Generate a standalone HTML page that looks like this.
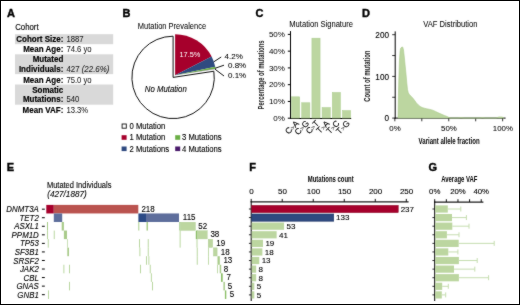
<!DOCTYPE html>
<html><head><meta charset="utf-8"><style>
html,body{margin:0;padding:0;background:#fff;}
svg{display:block;font-family:"Liberation Sans", sans-serif;will-change:transform;}
</style></head><body>
<svg width="520" height="305" viewBox="0 0 520 305">
<defs><filter id="bl" x="0" y="0" width="520" height="305" filterUnits="userSpaceOnUse" color-interpolation-filters="sRGB"><feConvolveMatrix order="3" kernelMatrix="1 2 1 2 28 2 1 2 1" edgeMode="duplicate" preserveAlpha="true"/></filter></defs>
<rect x="0" y="0" width="520" height="305" fill="#fff"/>
<g filter="url(#bl)">
<rect x="0" y="0" width="520" height="305" fill="#fff"/>
<text x="7" y="17.2" font-size="11" text-anchor="start" font-weight="bold" font-style="normal" fill="#000" stroke="#000" stroke-width="0.4" >A</text>
<text x="122.5" y="17.3" font-size="11" text-anchor="start" font-weight="bold" font-style="normal" fill="#000" stroke="#000" stroke-width="0.4" >B</text>
<text x="255.5" y="17.3" font-size="11" text-anchor="start" font-weight="bold" font-style="normal" fill="#000" stroke="#000" stroke-width="0.4" >C</text>
<text x="362.1" y="17.2" font-size="11" text-anchor="start" font-weight="bold" font-style="normal" fill="#000" stroke="#000" stroke-width="0.4" >D</text>
<text x="6.7" y="171.3" font-size="11" text-anchor="start" font-weight="bold" font-style="normal" fill="#000" stroke="#000" stroke-width="0.4" >E</text>
<text x="249.3" y="170.9" font-size="11" text-anchor="start" font-weight="bold" font-style="normal" fill="#000" stroke="#000" stroke-width="0.4" >F</text>
<text x="428.5" y="171.1" font-size="11" text-anchor="start" font-weight="bold" font-style="normal" fill="#000" stroke="#000" stroke-width="0.4" >G</text>
<text x="15.2" y="29.8" font-size="7.8" text-anchor="start" font-weight="normal" font-style="normal" fill="#000" stroke="#000" stroke-width="0.1"  transform="translate(15.2,29.8) scale(1,1.12) translate(-15.2,-29.8)">Cohort</text>
<rect x="15.00" y="34.20" width="98.20" height="10.00" fill="#d9d9d9" />
<rect x="15.00" y="54.30" width="98.20" height="19.80" fill="#d9d9d9" />
<rect x="15.00" y="84.50" width="98.20" height="20.20" fill="#d9d9d9" />
<text x="63.3" y="41.8" font-size="8" text-anchor="end" font-weight="bold" font-style="normal" fill="#000" stroke="#000" stroke-width="0.15"  transform="translate(63.3,41.8) scale(1,1.12) translate(-63.3,-41.8)">Cohort Size:</text>
<text x="63.3" y="52.2" font-size="8" text-anchor="end" font-weight="bold" font-style="normal" fill="#000" stroke="#000" stroke-width="0.15"  transform="translate(63.3,52.2) scale(1,1.12) translate(-63.3,-52.2)">Mean Age:</text>
<text x="63.3" y="62.3" font-size="8" text-anchor="end" font-weight="bold" font-style="normal" fill="#000" stroke="#000" stroke-width="0.15"  transform="translate(63.3,62.3) scale(1,1.12) translate(-63.3,-62.3)">Mutated</text>
<text x="63.3" y="71.8" font-size="8" text-anchor="end" font-weight="bold" font-style="normal" fill="#000" stroke="#000" stroke-width="0.15"  transform="translate(63.3,71.8) scale(1,1.12) translate(-63.3,-71.8)">Individuals:</text>
<text x="63.3" y="82.7" font-size="8" text-anchor="end" font-weight="bold" font-style="normal" fill="#000" stroke="#000" stroke-width="0.15"  transform="translate(63.3,82.7) scale(1,1.12) translate(-63.3,-82.7)">Mean Age:</text>
<text x="63.3" y="93.0" font-size="8" text-anchor="end" font-weight="bold" font-style="normal" fill="#000" stroke="#000" stroke-width="0.15"  transform="translate(63.3,93.0) scale(1,1.12) translate(-63.3,-93.0)">Somatic</text>
<text x="63.3" y="102.5" font-size="8" text-anchor="end" font-weight="bold" font-style="normal" fill="#000" stroke="#000" stroke-width="0.15"  transform="translate(63.3,102.5) scale(1,1.12) translate(-63.3,-102.5)">Mutations:</text>
<text x="63.3" y="112.8" font-size="8" text-anchor="end" font-weight="bold" font-style="normal" fill="#000" stroke="#000" stroke-width="0.15"  transform="translate(63.3,112.8) scale(1,1.12) translate(-63.3,-112.8)">Mean VAF:</text>
<text x="66.4" y="41.8" font-size="7.7" text-anchor="start" font-weight="normal" font-style="normal" fill="#1a1a1a" stroke="#1a1a1a" stroke-width="0.05"  transform="translate(66.4,41.8) scale(1,1.06) translate(-66.4,-41.8)">1887</text>
<text x="66.4" y="52.2" font-size="7.7" text-anchor="start" font-weight="normal" font-style="normal" fill="#1a1a1a" stroke="#1a1a1a" stroke-width="0.05"  transform="translate(66.4,52.2) scale(1,1.06) translate(-66.4,-52.2)">74.6 yo</text>
<text x="66.4" y="71.8" font-size="7.9" text-anchor="start" font-weight="normal" font-style="normal" fill="#1a1a1a" stroke="#1a1a1a" stroke-width="0.05"  transform="translate(66.4,71.8) scale(1,1.06) translate(-66.4,-71.8)">427 <tspan font-style="italic">(22.6%)</tspan></text>
<text x="66.4" y="82.7" font-size="7.7" text-anchor="start" font-weight="normal" font-style="normal" fill="#1a1a1a" stroke="#1a1a1a" stroke-width="0.05"  transform="translate(66.4,82.7) scale(1,1.06) translate(-66.4,-82.7)">75.0 yo</text>
<text x="66.4" y="102.5" font-size="7.7" text-anchor="start" font-weight="normal" font-style="normal" fill="#1a1a1a" stroke="#1a1a1a" stroke-width="0.05"  transform="translate(66.4,102.5) scale(1,1.06) translate(-66.4,-102.5)">540</text>
<text x="66.4" y="112.8" font-size="7.7" text-anchor="start" font-weight="normal" font-style="normal" fill="#1a1a1a" stroke="#1a1a1a" stroke-width="0.05"  transform="translate(66.4,112.8) scale(1,1.06) translate(-66.4,-112.8)">13.3%</text>
<text x="137.8" y="29.4" font-size="7.5" text-anchor="start" font-weight="normal" font-style="normal" fill="#000" stroke="#000" stroke-width="0.03"  transform="translate(137.8,29.4) scale(1,1.12) translate(-137.8,-29.4)">Mutation Prevalence</text>
<path d="M173.10,77.40 L213.84,71.24 A41.2,41.2 0 1 1 173.10,36.20 Z" fill="#fff" stroke="#111" stroke-width="1"/>
<path d="M175.10,75.20 L175.10,34.20 A41,41 0 0 1 211.63,56.59 Z" fill="#a6002c"/>
<path d="M175.10,75.20 L211.63,56.59 A41,41 0 0 1 215.22,66.76 Z" fill="#2f4a80"/>
<path d="M175.10,75.20 L215.22,66.76 A41,41 0 0 1 215.60,68.79 Z" fill="#6aae45"/>
<path d="M175.10,75.20 L215.60,68.79 A41,41 0 0 1 215.63,69.04 Z" fill="#4a1a6b"/>
<text x="179.5" y="57.5" font-size="7.4" text-anchor="start" font-weight="normal" font-style="normal" fill="#fff"  transform="translate(179.5,57.5) scale(1,1.08) translate(-179.5,-57.5)">17.5%</text>
<text x="144.8" y="91.8" font-size="7.8" text-anchor="start" font-weight="normal" font-style="italic" fill="#000" stroke="#000" stroke-width="0.1"  transform="translate(144.8,91.8) scale(1,1.12) translate(-144.8,-91.8)">No Mutation</text>
<line x1="213.8" y1="61.8" x2="221.2" y2="57.0" stroke="#111" stroke-width="1" />
<line x1="215" y1="68.3" x2="224" y2="65.2" stroke="#111" stroke-width="1" />
<line x1="215" y1="69.2" x2="224" y2="76" stroke="#111" stroke-width="1" />
<text x="224.6" y="59.1" font-size="8" text-anchor="start" font-weight="normal" font-style="normal" fill="#000" stroke="#000" stroke-width="0.05" >4.2%</text>
<text x="228" y="67.8" font-size="8" text-anchor="start" font-weight="normal" font-style="normal" fill="#000" stroke="#000" stroke-width="0.05" >0.8%</text>
<text x="228" y="77.9" font-size="8" text-anchor="start" font-weight="normal" font-style="normal" fill="#000" stroke="#000" stroke-width="0.05" >0.1%</text>
<rect x="122.1" y="124" width="4.2" height="4.2" fill="#fff" stroke="#111" stroke-width="0.9"/>
<rect x="121.60" y="135.20" width="5.00" height="4.60" fill="#a6002c" />
<rect x="121.60" y="146.50" width="5.00" height="4.60" fill="#2f4a80" />
<rect x="175.20" y="135.20" width="5.00" height="4.60" fill="#6aae45" />
<rect x="175.20" y="146.50" width="5.00" height="4.60" fill="#4a1a6b" />
<text x="129.5" y="128.9" font-size="7.7" text-anchor="start" font-weight="normal" font-style="normal" fill="#000" stroke="#000" stroke-width="0.1"  transform="translate(129.5,128.9) scale(1,1.12) translate(-129.5,-128.9)">0 Mutation</text>
<text x="129.5" y="140.3" font-size="7.7" text-anchor="start" font-weight="normal" font-style="normal" fill="#000" stroke="#000" stroke-width="0.1"  transform="translate(129.5,140.3) scale(1,1.12) translate(-129.5,-140.3)">1 Mutation</text>
<text x="129.5" y="151.6" font-size="7.7" text-anchor="start" font-weight="normal" font-style="normal" fill="#000" stroke="#000" stroke-width="0.1"  transform="translate(129.5,151.6) scale(1,1.12) translate(-129.5,-151.6)">2 Mutations</text>
<text x="182.0" y="140.3" font-size="7.7" text-anchor="start" font-weight="normal" font-style="normal" fill="#000" stroke="#000" stroke-width="0.1"  transform="translate(182.0,140.3) scale(1,1.12) translate(-182.0,-140.3)">3 Mutations</text>
<text x="182.0" y="151.6" font-size="7.7" text-anchor="start" font-weight="normal" font-style="normal" fill="#000" stroke="#000" stroke-width="0.1"  transform="translate(182.0,151.6) scale(1,1.12) translate(-182.0,-151.6)">4 Mutations</text>
<text x="289.3" y="26.7" font-size="7.6" text-anchor="start" font-weight="normal" font-style="normal" fill="#000" stroke="#000" stroke-width="0.03"  transform="translate(289.3,26.7) scale(1,1.12) translate(-289.3,-26.7)">Mutation Signature</text>
<line x1="290.5" y1="31.1" x2="290.5" y2="118.5" stroke="#000" stroke-width="1" />
<line x1="290.0" y1="118.5" x2="351.2" y2="118.5" stroke="#000" stroke-width="1" />
<line x1="287.8" y1="118.2" x2="290.5" y2="118.2" stroke="#000" stroke-width="1" />
<text x="284.9" y="120.8" font-size="8" text-anchor="end" font-weight="normal" font-style="normal" fill="#000" >0%</text>
<line x1="287.8" y1="101.44" x2="290.5" y2="101.44" stroke="#000" stroke-width="1" />
<text x="284.9" y="104.03999999999999" font-size="8" text-anchor="end" font-weight="normal" font-style="normal" fill="#000" >10%</text>
<line x1="287.8" y1="84.68" x2="290.5" y2="84.68" stroke="#000" stroke-width="1" />
<text x="284.9" y="87.28" font-size="8" text-anchor="end" font-weight="normal" font-style="normal" fill="#000" >20%</text>
<line x1="287.8" y1="67.92" x2="290.5" y2="67.92" stroke="#000" stroke-width="1" />
<text x="284.9" y="70.52" font-size="8" text-anchor="end" font-weight="normal" font-style="normal" fill="#000" >30%</text>
<line x1="287.8" y1="51.16" x2="290.5" y2="51.16" stroke="#000" stroke-width="1" />
<text x="284.9" y="53.76" font-size="8" text-anchor="end" font-weight="normal" font-style="normal" fill="#000" >40%</text>
<line x1="287.8" y1="34.39999999999999" x2="290.5" y2="34.39999999999999" stroke="#000" stroke-width="1" />
<text x="284.9" y="36.99999999999999" font-size="8" text-anchor="end" font-weight="normal" font-style="normal" fill="#000" >50%</text>
<rect x="291.55" y="96.83" width="8.15" height="21.22" fill="#bcd6a0" stroke="#a9cb8c" stroke-width="0.5"/>
<text x="299.43" y="123.9" font-size="8.5" text-anchor="end" font-weight="normal" font-style="normal" fill="#000" stroke="#000" stroke-width="0.1" transform="rotate(-45 299.43 123.9)">C<tspan font-size="6" fill="#555" stroke="#555">&gt;</tspan>A</text>
<rect x="301.73" y="102.78" width="8.15" height="15.27" fill="#bcd6a0" stroke="#a9cb8c" stroke-width="0.5"/>
<text x="309.61" y="123.9" font-size="8.5" text-anchor="end" font-weight="normal" font-style="normal" fill="#000" stroke="#000" stroke-width="0.1" transform="rotate(-45 309.61 123.9)">C<tspan font-size="6" fill="#555" stroke="#555">&gt;</tspan>G</text>
<rect x="311.91" y="38.17" width="8.15" height="79.88" fill="#bcd6a0" stroke="#a9cb8c" stroke-width="0.5"/>
<text x="319.79" y="123.9" font-size="8.5" text-anchor="end" font-weight="normal" font-style="normal" fill="#000" stroke="#000" stroke-width="0.1" transform="rotate(-45 319.79 123.9)">C<tspan font-size="6" fill="#555" stroke="#555">&gt;</tspan>T</text>
<rect x="322.09" y="107.56" width="8.15" height="10.49" fill="#bcd6a0" stroke="#a9cb8c" stroke-width="0.5"/>
<text x="329.97" y="123.9" font-size="8.5" text-anchor="end" font-weight="normal" font-style="normal" fill="#000" stroke="#000" stroke-width="0.1" transform="rotate(-45 329.97 123.9)">T<tspan font-size="6" fill="#555" stroke="#555">&gt;</tspan>A</text>
<rect x="332.27" y="92.47" width="8.15" height="25.58" fill="#bcd6a0" stroke="#a9cb8c" stroke-width="0.5"/>
<text x="340.15" y="123.9" font-size="8.5" text-anchor="end" font-weight="normal" font-style="normal" fill="#000" stroke="#000" stroke-width="0.1" transform="rotate(-45 340.15 123.9)">T<tspan font-size="6" fill="#555" stroke="#555">&gt;</tspan>C</text>
<rect x="342.45" y="110.57" width="8.15" height="7.48" fill="#bcd6a0" stroke="#a9cb8c" stroke-width="0.5"/>
<text x="350.33" y="123.9" font-size="8.5" text-anchor="end" font-weight="normal" font-style="normal" fill="#000" stroke="#000" stroke-width="0.1" transform="rotate(-45 350.33 123.9)">T<tspan font-size="6" fill="#555" stroke="#555">&gt;</tspan>G</text>
<text x="0" y="0" font-size="8.3" text-anchor="middle" font-weight="bold" font-style="normal" fill="#222" transform="translate(263.6,74.9) rotate(-90)" textLength="69" lengthAdjust="spacingAndGlyphs">Percentage of mutations</text>
<text x="423.3" y="26.6" font-size="7.6" text-anchor="start" font-weight="normal" font-style="normal" fill="#000" stroke="#000" stroke-width="0.03"  transform="translate(423.3,26.6) scale(1,1.12) translate(-423.3,-26.6)">VAF Distribution</text>
<line x1="395.2" y1="31.4" x2="395.2" y2="118.6" stroke="#000" stroke-width="1" />
<line x1="394.7" y1="118.1" x2="505.6" y2="118.1" stroke="#000" stroke-width="1" />
<line x1="392.2" y1="118.1" x2="395.2" y2="118.1" stroke="#000" stroke-width="0.8" />
<line x1="392.2" y1="97.25" x2="395.2" y2="97.25" stroke="#000" stroke-width="0.8" />
<line x1="392.2" y1="76.4" x2="395.2" y2="76.4" stroke="#000" stroke-width="0.8" />
<line x1="392.2" y1="55.55" x2="395.2" y2="55.55" stroke="#000" stroke-width="0.8" />
<line x1="392.2" y1="34.7" x2="395.2" y2="34.7" stroke="#000" stroke-width="0.8" />
<text x="389.0" y="121.19999999999999" font-size="8.2" text-anchor="end" font-weight="normal" font-style="normal" fill="#000" stroke="#000" stroke-width="0.1" >0</text>
<text x="389.0" y="79.5" font-size="8.2" text-anchor="end" font-weight="normal" font-style="normal" fill="#000" stroke="#000" stroke-width="0.1" >100</text>
<text x="389.0" y="37.800000000000004" font-size="8.2" text-anchor="end" font-weight="normal" font-style="normal" fill="#000" stroke="#000" stroke-width="0.1" >200</text>
<line x1="394.85" y1="118.1" x2="394.85" y2="121.3" stroke="#000" stroke-width="0.8" />
<line x1="421.8" y1="118.1" x2="421.8" y2="121.3" stroke="#000" stroke-width="0.8" />
<line x1="448.75" y1="118.1" x2="448.75" y2="121.3" stroke="#000" stroke-width="0.8" />
<line x1="475.70000000000005" y1="118.1" x2="475.70000000000005" y2="121.3" stroke="#000" stroke-width="0.8" />
<line x1="502.65000000000003" y1="118.1" x2="502.65000000000003" y2="121.3" stroke="#000" stroke-width="0.8" />
<text x="395.05" y="131.2" font-size="7.9" text-anchor="middle" font-weight="normal" font-style="normal" fill="#000" stroke="#000" stroke-width="0.05" >0%</text>
<text x="448.95" y="131.2" font-size="7.9" text-anchor="middle" font-weight="normal" font-style="normal" fill="#000" stroke="#000" stroke-width="0.05" >50%</text>
<text x="502.85" y="131.2" font-size="7.9" text-anchor="middle" font-weight="normal" font-style="normal" fill="#000" stroke="#000" stroke-width="0.05" >100%</text>
<path d="M398,118 L398.3,100 L398.8,80 L399.4,62 L400.0,52 L400.5,48.6 L401.2,47.6 L402.0,47.0 L402.8,47.2 L403.5,50 L404.3,57 L405.2,66 L406.1,75 L406.8,83 L407.5,89.5 L408.3,92.8 L409.2,94.3 L411,96.2 L412.7,97.9 L414.5,100.3 L416.4,102.9 L418.3,104.9 L420.1,106.4 L422.3,107.6 L424.5,108.2 L426.7,108.8 L428.9,109.2 L431.1,109.7 L433.3,110.4 L435.5,111.4 L437.8,112.6 L440,113.6 L442.2,114.5 L444.4,115.4 L446.6,116.3 L448.2,117.1 L449.6,117.8 L451,118 L458,118 L461,117.6 L464,118 L480,118 L482.5,117.6 L485,118 L496,118 L499,116.9 L502,117 L504,118 Z" fill="#bcd6a0" stroke="#a9ca8c" stroke-width="0.6" stroke-linejoin="round"/>
<text x="0" y="0" font-size="8.8" text-anchor="middle" font-weight="bold" font-style="normal" fill="#222" transform="translate(370.1,76.2) rotate(-90)" textLength="51.2" lengthAdjust="spacingAndGlyphs">Count of mutation</text>
<text x="449.1" y="144" font-size="9" text-anchor="middle" font-weight="bold" font-style="normal" fill="#000" textLength="61" lengthAdjust="spacingAndGlyphs">Variant allele fraction</text>
<text x="46.9" y="187.6" font-size="7.5" text-anchor="start" font-weight="normal" font-style="normal" fill="#000" stroke="#000" stroke-width="0.1"  transform="translate(46.9,187.6) scale(1,1.12) translate(-46.9,-187.6)">Mutated Individuals</text>
<text x="47.3" y="196.6" font-size="8.2" text-anchor="start" font-weight="normal" font-style="italic" fill="#000" stroke="#000" stroke-width="0.1" textLength="39.4" lengthAdjust="spacingAndGlyphs">(427/1887)</text>
<text x="38.8" y="212.275" font-size="7.9" text-anchor="end" font-weight="normal" font-style="italic" fill="#000" stroke="#000" stroke-width="0.1"  transform="translate(38.8,212.275) scale(1,1.12) translate(-38.8,-212.275)">DNMT3A</text>
<line x1="41.9" y1="209.175" x2="44.8" y2="209.175" stroke="#000" stroke-width="1" />
<text x="38.8" y="220.82500000000002" font-size="7.9" text-anchor="end" font-weight="normal" font-style="italic" fill="#000" stroke="#000" stroke-width="0.1"  transform="translate(38.8,220.82500000000002) scale(1,1.12) translate(-38.8,-220.82500000000002)">TET2</text>
<line x1="41.9" y1="217.72500000000002" x2="44.8" y2="217.72500000000002" stroke="#000" stroke-width="1" />
<text x="38.8" y="229.375" font-size="7.9" text-anchor="end" font-weight="normal" font-style="italic" fill="#000" stroke="#000" stroke-width="0.1"  transform="translate(38.8,229.375) scale(1,1.12) translate(-38.8,-229.375)">ASXL1</text>
<line x1="41.9" y1="226.275" x2="44.8" y2="226.275" stroke="#000" stroke-width="1" />
<text x="38.8" y="237.925" font-size="7.9" text-anchor="end" font-weight="normal" font-style="italic" fill="#000" stroke="#000" stroke-width="0.1"  transform="translate(38.8,237.925) scale(1,1.12) translate(-38.8,-237.925)">PPM1D</text>
<line x1="41.9" y1="234.82500000000002" x2="44.8" y2="234.82500000000002" stroke="#000" stroke-width="1" />
<text x="38.8" y="246.47500000000002" font-size="7.9" text-anchor="end" font-weight="normal" font-style="italic" fill="#000" stroke="#000" stroke-width="0.1"  transform="translate(38.8,246.47500000000002) scale(1,1.12) translate(-38.8,-246.47500000000002)">TP53</text>
<line x1="41.9" y1="243.37500000000003" x2="44.8" y2="243.37500000000003" stroke="#000" stroke-width="1" />
<text x="38.8" y="255.025" font-size="7.9" text-anchor="end" font-weight="normal" font-style="italic" fill="#000" stroke="#000" stroke-width="0.1"  transform="translate(38.8,255.025) scale(1,1.12) translate(-38.8,-255.025)">SF3B1</text>
<line x1="41.9" y1="251.925" x2="44.8" y2="251.925" stroke="#000" stroke-width="1" />
<text x="38.8" y="263.575" font-size="7.9" text-anchor="end" font-weight="normal" font-style="italic" fill="#000" stroke="#000" stroke-width="0.1"  transform="translate(38.8,263.575) scale(1,1.12) translate(-38.8,-263.575)">SRSF2</text>
<line x1="41.9" y1="260.47499999999997" x2="44.8" y2="260.47499999999997" stroke="#000" stroke-width="1" />
<text x="38.8" y="272.125" font-size="7.9" text-anchor="end" font-weight="normal" font-style="italic" fill="#000" stroke="#000" stroke-width="0.1"  transform="translate(38.8,272.125) scale(1,1.12) translate(-38.8,-272.125)">JAK2</text>
<line x1="41.9" y1="269.025" x2="44.8" y2="269.025" stroke="#000" stroke-width="1" />
<text x="38.8" y="280.675" font-size="7.9" text-anchor="end" font-weight="normal" font-style="italic" fill="#000" stroke="#000" stroke-width="0.1"  transform="translate(38.8,280.675) scale(1,1.12) translate(-38.8,-280.675)">CBL</text>
<line x1="41.9" y1="277.575" x2="44.8" y2="277.575" stroke="#000" stroke-width="1" />
<text x="38.8" y="289.225" font-size="7.9" text-anchor="end" font-weight="normal" font-style="italic" fill="#000" stroke="#000" stroke-width="0.1"  transform="translate(38.8,289.225) scale(1,1.12) translate(-38.8,-289.225)">GNAS</text>
<line x1="41.9" y1="286.125" x2="44.8" y2="286.125" stroke="#000" stroke-width="1" />
<text x="38.8" y="297.775" font-size="7.9" text-anchor="end" font-weight="normal" font-style="italic" fill="#000" stroke="#000" stroke-width="0.1"  transform="translate(38.8,297.775) scale(1,1.12) translate(-38.8,-297.775)">GNB1</text>
<line x1="41.9" y1="294.67499999999995" x2="44.8" y2="294.67499999999995" stroke="#000" stroke-width="1" />
<rect x="46.30" y="204.90" width="7.50" height="8.55" fill="#a6002c" />
<rect x="53.80" y="204.90" width="84.50" height="8.55" fill="#ba534f" />
<rect x="53.80" y="213.45" width="8.40" height="8.55" fill="#5e6e9c" />
<rect x="138.40" y="213.45" width="7.60" height="8.55" fill="#2b4a86" />
<rect x="146.00" y="213.45" width="33.00" height="8.55" fill="#5e6e9c" />
<rect x="47.00" y="222.00" width="1.00" height="8.55" fill="#a9cd8a" />
<rect x="61.70" y="222.00" width="2.20" height="8.55" fill="#a9cb8b" />
<rect x="138.30" y="222.00" width="1.00" height="8.55" fill="#a9cd8a" />
<rect x="146.50" y="222.00" width="1.50" height="8.55" fill="#a9cd8a" />
<rect x="179.40" y="222.00" width="0.90" height="8.55" fill="#8cbf68" />
<rect x="180.50" y="222.20" width="14.90" height="8.15" fill="#bcd6a0" stroke="#acca90" stroke-width="0.4"/>
<rect x="47.20" y="230.55" width="0.80" height="8.55" fill="#a9cd8a" />
<rect x="53.80" y="230.55" width="0.80" height="8.55" fill="#a9cd8a" />
<rect x="63.90" y="230.55" width="3.10" height="8.55" fill="#a9cb8b" />
<rect x="179.70" y="230.55" width="0.80" height="8.55" fill="#a9cd8a" />
<rect x="195.80" y="230.55" width="1.20" height="8.55" fill="#8cbf68" />
<rect x="197.20" y="230.75" width="10.00" height="8.15" fill="#bcd6a0" stroke="#acca90" stroke-width="0.4"/>
<rect x="47.80" y="239.10" width="0.80" height="8.55" fill="#a9cd8a" />
<rect x="67.00" y="239.10" width="0.60" height="8.55" fill="#a9cd8a" />
<rect x="139.20" y="239.10" width="0.80" height="8.55" fill="#a9cd8a" />
<rect x="147.80" y="239.10" width="0.80" height="8.55" fill="#a9cd8a" />
<rect x="179.70" y="239.10" width="0.80" height="8.55" fill="#a9cd8a" />
<rect x="196.60" y="239.10" width="0.80" height="8.55" fill="#a9cd8a" />
<rect x="208.20" y="239.30" width="4.50" height="8.15" fill="#bcd6a0" stroke="#acca90" stroke-width="0.4"/>
<rect x="67.30" y="247.65" width="1.70" height="8.55" fill="#a9cb8b" />
<rect x="139.50" y="247.65" width="0.80" height="8.55" fill="#a9cd8a" />
<rect x="147.80" y="247.65" width="0.80" height="8.55" fill="#a9cd8a" />
<rect x="196.80" y="247.65" width="0.80" height="8.55" fill="#a9cd8a" />
<rect x="208.10" y="247.65" width="0.70" height="8.55" fill="#a9cd8a" />
<rect x="213.40" y="247.85" width="3.70" height="8.15" fill="#bcd6a0" stroke="#acca90" stroke-width="0.4"/>
<rect x="146.00" y="256.20" width="0.80" height="8.55" fill="#a9cd8a" />
<rect x="148.50" y="256.20" width="0.80" height="8.55" fill="#a9cd8a" />
<rect x="196.80" y="256.20" width="0.80" height="8.55" fill="#a9cd8a" />
<rect x="208.10" y="256.20" width="0.70" height="8.55" fill="#a9cd8a" />
<rect x="217.50" y="256.20" width="2.30" height="8.55" fill="#a9cb8b" />
<rect x="63.50" y="264.75" width="0.80" height="8.55" fill="#a9cd8a" />
<rect x="69.00" y="264.75" width="0.80" height="8.55" fill="#a9cd8a" />
<rect x="140.00" y="264.75" width="0.80" height="8.55" fill="#a9cd8a" />
<rect x="149.80" y="264.75" width="0.80" height="8.55" fill="#a9cd8a" />
<rect x="217.30" y="264.75" width="0.70" height="8.55" fill="#a9cd8a" />
<rect x="219.70" y="264.75" width="1.50" height="8.55" fill="#a9cb8b" />
<rect x="150.90" y="273.30" width="0.80" height="8.55" fill="#a9cd8a" />
<rect x="221.00" y="273.30" width="1.70" height="8.55" fill="#8cbf68" />
<rect x="69.00" y="281.85" width="0.80" height="8.55" fill="#a9cd8a" />
<rect x="152.00" y="281.85" width="0.80" height="8.55" fill="#a9cd8a" />
<rect x="223.40" y="281.85" width="1.50" height="8.55" fill="#a9cb8b" />
<rect x="48.00" y="290.40" width="0.80" height="8.55" fill="#a9cd8a" />
<rect x="224.90" y="290.40" width="1.40" height="8.55" fill="#8cbf68" />
<text x="141.4" y="211.775" font-size="8" text-anchor="start" font-weight="normal" font-style="normal" fill="#000" stroke="#000" stroke-width="0.1"  transform="translate(141.4,211.775) scale(1,1.08) translate(-141.4,-211.775)">218</text>
<text x="182.8" y="220.32500000000002" font-size="8" text-anchor="start" font-weight="normal" font-style="normal" fill="#000" stroke="#000" stroke-width="0.1"  transform="translate(182.8,220.32500000000002) scale(1,1.08) translate(-182.8,-220.32500000000002)">115</text>
<text x="198.3" y="228.875" font-size="8" text-anchor="start" font-weight="normal" font-style="normal" fill="#000" stroke="#000" stroke-width="0.1"  transform="translate(198.3,228.875) scale(1,1.08) translate(-198.3,-228.875)">52</text>
<text x="210.4" y="237.425" font-size="8" text-anchor="start" font-weight="normal" font-style="normal" fill="#000" stroke="#000" stroke-width="0.1"  transform="translate(210.4,237.425) scale(1,1.08) translate(-210.4,-237.425)">38</text>
<text x="216.3" y="245.97500000000002" font-size="8" text-anchor="start" font-weight="normal" font-style="normal" fill="#000" stroke="#000" stroke-width="0.1"  transform="translate(216.3,245.97500000000002) scale(1,1.08) translate(-216.3,-245.97500000000002)">19</text>
<text x="220.8" y="254.525" font-size="8" text-anchor="start" font-weight="normal" font-style="normal" fill="#000" stroke="#000" stroke-width="0.1"  transform="translate(220.8,254.525) scale(1,1.08) translate(-220.8,-254.525)">18</text>
<text x="223.4" y="263.075" font-size="8" text-anchor="start" font-weight="normal" font-style="normal" fill="#000" stroke="#000" stroke-width="0.1"  transform="translate(223.4,263.075) scale(1,1.08) translate(-223.4,-263.075)">13</text>
<text x="223.8" y="271.625" font-size="8" text-anchor="start" font-weight="normal" font-style="normal" fill="#000" stroke="#000" stroke-width="0.1"  transform="translate(223.8,271.625) scale(1,1.08) translate(-223.8,-271.625)">8</text>
<text x="226.4" y="280.175" font-size="8" text-anchor="start" font-weight="normal" font-style="normal" fill="#000" stroke="#000" stroke-width="0.1"  transform="translate(226.4,280.175) scale(1,1.08) translate(-226.4,-280.175)">7</text>
<text x="227.8" y="288.725" font-size="8" text-anchor="start" font-weight="normal" font-style="normal" fill="#000" stroke="#000" stroke-width="0.1"  transform="translate(227.8,288.725) scale(1,1.08) translate(-227.8,-288.725)">5</text>
<text x="229.70000000000002" y="297.275" font-size="8" text-anchor="start" font-weight="normal" font-style="normal" fill="#000" stroke="#000" stroke-width="0.1"  transform="translate(229.70000000000002,297.275) scale(1,1.08) translate(-229.70000000000002,-297.275)">5</text>
<text x="330.75" y="182.1" font-size="8.8" text-anchor="middle" font-weight="bold" font-style="normal" fill="#000" textLength="46" lengthAdjust="spacingAndGlyphs">Mutations count</text>
<line x1="250.6" y1="201.9" x2="408.6" y2="201.9" stroke="#1a1a1a" stroke-width="1.25" />
<line x1="251.2" y1="201.3" x2="251.2" y2="301" stroke="#000" stroke-width="1" />
<line x1="251.2" y1="198.9" x2="251.2" y2="201.9" stroke="#111" stroke-width="1" />
<text x="251.5" y="194.3" font-size="8" text-anchor="middle" font-weight="normal" font-style="normal" fill="#000" stroke="#000" stroke-width="0.1" >0</text>
<line x1="282.21999999999997" y1="198.9" x2="282.21999999999997" y2="201.9" stroke="#111" stroke-width="1" />
<text x="282.52" y="194.3" font-size="8" text-anchor="middle" font-weight="normal" font-style="normal" fill="#000" stroke="#000" stroke-width="0.1" >50</text>
<line x1="313.24" y1="198.9" x2="313.24" y2="201.9" stroke="#111" stroke-width="1" />
<text x="313.54" y="194.3" font-size="8" text-anchor="middle" font-weight="normal" font-style="normal" fill="#000" stroke="#000" stroke-width="0.1" >100</text>
<line x1="344.26" y1="198.9" x2="344.26" y2="201.9" stroke="#111" stroke-width="1" />
<text x="344.56" y="194.3" font-size="8" text-anchor="middle" font-weight="normal" font-style="normal" fill="#000" stroke="#000" stroke-width="0.1" >150</text>
<line x1="375.28" y1="198.9" x2="375.28" y2="201.9" stroke="#111" stroke-width="1" />
<text x="375.58" y="194.3" font-size="8" text-anchor="middle" font-weight="normal" font-style="normal" fill="#000" stroke="#000" stroke-width="0.1" >200</text>
<line x1="406.29999999999995" y1="198.9" x2="406.29999999999995" y2="201.9" stroke="#111" stroke-width="1" />
<text x="406.59999999999997" y="194.3" font-size="8" text-anchor="middle" font-weight="normal" font-style="normal" fill="#000" stroke="#000" stroke-width="0.1" >250</text>
<rect x="251.70" y="205.40" width="146.53" height="7.20" fill="#a6002c" stroke="#8a0020" stroke-width="0.5"/>
<line x1="248.89999999999998" y1="209.0" x2="251.2" y2="209.0" stroke="#000" stroke-width="0.8" />
<text x="400.6347999999999" y="211.8" font-size="8" text-anchor="start" font-weight="normal" font-style="normal" fill="#000" stroke="#000" stroke-width="0.1" >237</text>
<rect x="251.70" y="213.99" width="82.01" height="7.20" fill="#2f4a80" stroke="#1c3463" stroke-width="0.6"/>
<line x1="248.89999999999998" y1="217.59" x2="251.2" y2="217.59" stroke="#000" stroke-width="0.8" />
<text x="336.11319999999995" y="220.39000000000001" font-size="8" text-anchor="start" font-weight="normal" font-style="normal" fill="#000" stroke="#000" stroke-width="0.1" >133</text>
<rect x="251.70" y="222.58" width="32.38" height="7.20" fill="#bcd6a0" />
<line x1="248.89999999999998" y1="226.18" x2="251.2" y2="226.18" stroke="#000" stroke-width="0.8" />
<text x="286.48119999999994" y="228.98000000000002" font-size="8" text-anchor="start" font-weight="normal" font-style="normal" fill="#000" stroke="#000" stroke-width="0.1" >53</text>
<rect x="251.70" y="231.17" width="24.94" height="7.20" fill="#bcd6a0" />
<line x1="248.89999999999998" y1="234.77" x2="251.2" y2="234.77" stroke="#000" stroke-width="0.8" />
<text x="279.03639999999996" y="237.57000000000002" font-size="8" text-anchor="start" font-weight="normal" font-style="normal" fill="#000" stroke="#000" stroke-width="0.1" >41</text>
<rect x="251.70" y="239.76" width="11.29" height="7.20" fill="#bcd6a0" />
<line x1="248.89999999999998" y1="243.35999999999999" x2="251.2" y2="243.35999999999999" stroke="#000" stroke-width="0.8" />
<text x="265.38759999999996" y="246.16" font-size="8" text-anchor="start" font-weight="normal" font-style="normal" fill="#000" stroke="#000" stroke-width="0.1" >19</text>
<rect x="251.70" y="248.35" width="10.67" height="7.20" fill="#bcd6a0" />
<line x1="248.89999999999998" y1="251.95000000000002" x2="251.2" y2="251.95000000000002" stroke="#000" stroke-width="0.8" />
<text x="264.76719999999995" y="254.75000000000003" font-size="8" text-anchor="start" font-weight="normal" font-style="normal" fill="#000" stroke="#000" stroke-width="0.1" >18</text>
<rect x="251.70" y="256.94" width="7.57" height="7.20" fill="#bcd6a0" />
<line x1="248.89999999999998" y1="260.54" x2="251.2" y2="260.54" stroke="#000" stroke-width="0.8" />
<text x="261.66519999999997" y="263.34000000000003" font-size="8" text-anchor="start" font-weight="normal" font-style="normal" fill="#000" stroke="#000" stroke-width="0.1" >13</text>
<rect x="251.70" y="265.53" width="4.46" height="7.20" fill="#bcd6a0" />
<line x1="248.89999999999998" y1="269.13" x2="251.2" y2="269.13" stroke="#000" stroke-width="0.8" />
<text x="258.56319999999994" y="271.93" font-size="8" text-anchor="start" font-weight="normal" font-style="normal" fill="#000" stroke="#000" stroke-width="0.1" >8</text>
<rect x="251.70" y="274.12" width="4.46" height="7.20" fill="#bcd6a0" />
<line x1="248.89999999999998" y1="277.72" x2="251.2" y2="277.72" stroke="#000" stroke-width="0.8" />
<text x="258.56319999999994" y="280.52000000000004" font-size="8" text-anchor="start" font-weight="normal" font-style="normal" fill="#000" stroke="#000" stroke-width="0.1" >8</text>
<rect x="251.70" y="282.71" width="2.60" height="7.20" fill="#bcd6a0" />
<line x1="248.89999999999998" y1="286.31000000000006" x2="251.2" y2="286.31000000000006" stroke="#000" stroke-width="0.8" />
<text x="256.702" y="289.11000000000007" font-size="8" text-anchor="start" font-weight="normal" font-style="normal" fill="#000" stroke="#000" stroke-width="0.1" >5</text>
<rect x="251.70" y="291.30" width="2.60" height="7.20" fill="#bcd6a0" />
<line x1="248.89999999999998" y1="294.90000000000003" x2="251.2" y2="294.90000000000003" stroke="#000" stroke-width="0.8" />
<text x="256.702" y="297.70000000000005" font-size="8" text-anchor="start" font-weight="normal" font-style="normal" fill="#000" stroke="#000" stroke-width="0.1" >5</text>
<text x="459.35" y="182.1" font-size="8.8" text-anchor="middle" font-weight="bold" font-style="normal" fill="#000" textLength="36.3" lengthAdjust="spacingAndGlyphs">Average VAF</text>
<line x1="434.09999999999997" y1="202.0" x2="483.4" y2="202.0" stroke="#1a1a1a" stroke-width="1.25" />
<line x1="434.7" y1="201.4" x2="434.7" y2="301" stroke="#000" stroke-width="1" />
<line x1="434.7" y1="199.2" x2="434.7" y2="202" stroke="#111" stroke-width="1" />
<line x1="446.33" y1="199.2" x2="446.33" y2="202" stroke="#111" stroke-width="1" />
<line x1="457.96" y1="199.2" x2="457.96" y2="202" stroke="#111" stroke-width="1" />
<line x1="469.59" y1="199.2" x2="469.59" y2="202" stroke="#111" stroke-width="1" />
<line x1="481.21999999999997" y1="199.2" x2="481.21999999999997" y2="202" stroke="#111" stroke-width="1" />
<text x="434.7" y="194.3" font-size="7.8" text-anchor="middle" font-weight="normal" font-style="normal" fill="#000" stroke="#000" stroke-width="0.1" >0%</text>
<text x="457.96" y="194.3" font-size="7.8" text-anchor="middle" font-weight="normal" font-style="normal" fill="#000" stroke="#000" stroke-width="0.1" >20%</text>
<text x="481.21999999999997" y="194.3" font-size="7.8" text-anchor="middle" font-weight="normal" font-style="normal" fill="#000" stroke="#000" stroke-width="0.1" >40%</text>
<rect x="435.20" y="205.40" width="12.60" height="7.20" fill="#bcd6a0" />
<line x1="447.8" y1="209.0" x2="460.8" y2="209.0" stroke="#c6ddb0" stroke-width="1" />
<line x1="460.8" y1="206.5" x2="460.8" y2="211.5" stroke="#c6ddb0" stroke-width="1" />
<line x1="432.4" y1="209.0" x2="434.7" y2="209.0" stroke="#000" stroke-width="0.8" />
<rect x="435.20" y="213.99" width="16.80" height="7.20" fill="#bcd6a0" />
<line x1="452" y1="217.59" x2="466.4" y2="217.59" stroke="#c6ddb0" stroke-width="1" />
<line x1="466.4" y1="215.09" x2="466.4" y2="220.09" stroke="#c6ddb0" stroke-width="1" />
<line x1="432.4" y1="217.59" x2="434.7" y2="217.59" stroke="#000" stroke-width="0.8" />
<rect x="435.20" y="222.58" width="17.10" height="7.20" fill="#bcd6a0" />
<line x1="452.3" y1="226.18" x2="469" y2="226.18" stroke="#c6ddb0" stroke-width="1" />
<line x1="469" y1="223.68" x2="469" y2="228.68" stroke="#c6ddb0" stroke-width="1" />
<line x1="432.4" y1="226.18" x2="434.7" y2="226.18" stroke="#000" stroke-width="0.8" />
<rect x="435.20" y="231.17" width="11.70" height="7.20" fill="#bcd6a0" />
<line x1="446.9" y1="234.77" x2="459" y2="234.77" stroke="#c6ddb0" stroke-width="1" />
<line x1="459" y1="232.27" x2="459" y2="237.27" stroke="#c6ddb0" stroke-width="1" />
<line x1="432.4" y1="234.77" x2="434.7" y2="234.77" stroke="#000" stroke-width="0.8" />
<rect x="435.20" y="239.76" width="23.50" height="7.20" fill="#bcd6a0" />
<line x1="458.7" y1="243.35999999999999" x2="494.2" y2="243.35999999999999" stroke="#c6ddb0" stroke-width="1" />
<line x1="494.2" y1="240.85999999999999" x2="494.2" y2="245.85999999999999" stroke="#c6ddb0" stroke-width="1" />
<line x1="432.4" y1="243.35999999999999" x2="434.7" y2="243.35999999999999" stroke="#000" stroke-width="0.8" />
<rect x="435.20" y="248.35" width="13.10" height="7.20" fill="#bcd6a0" />
<line x1="448.3" y1="251.95000000000002" x2="457.9" y2="251.95000000000002" stroke="#c6ddb0" stroke-width="1" />
<line x1="457.9" y1="249.45000000000002" x2="457.9" y2="254.45000000000002" stroke="#c6ddb0" stroke-width="1" />
<line x1="432.4" y1="251.95000000000002" x2="434.7" y2="251.95000000000002" stroke="#000" stroke-width="0.8" />
<rect x="435.20" y="256.94" width="23.70" height="7.20" fill="#bcd6a0" />
<line x1="458.9" y1="260.54" x2="477.2" y2="260.54" stroke="#c6ddb0" stroke-width="1" />
<line x1="477.2" y1="258.04" x2="477.2" y2="263.04" stroke="#c6ddb0" stroke-width="1" />
<line x1="432.4" y1="260.54" x2="434.7" y2="260.54" stroke="#000" stroke-width="0.8" />
<rect x="435.20" y="265.53" width="18.80" height="7.20" fill="#bcd6a0" />
<line x1="454" y1="269.13" x2="474.8" y2="269.13" stroke="#c6ddb0" stroke-width="1" />
<line x1="474.8" y1="266.63" x2="474.8" y2="271.63" stroke="#c6ddb0" stroke-width="1" />
<line x1="432.4" y1="269.13" x2="434.7" y2="269.13" stroke="#000" stroke-width="0.8" />
<rect x="435.20" y="274.12" width="23.70" height="7.20" fill="#bcd6a0" />
<line x1="458.9" y1="277.72" x2="488.6" y2="277.72" stroke="#c6ddb0" stroke-width="1" />
<line x1="488.6" y1="275.22" x2="488.6" y2="280.22" stroke="#c6ddb0" stroke-width="1" />
<line x1="432.4" y1="277.72" x2="434.7" y2="277.72" stroke="#000" stroke-width="0.8" />
<rect x="435.20" y="282.71" width="7.00" height="7.20" fill="#bcd6a0" />
<line x1="442.2" y1="286.31000000000006" x2="448.3" y2="286.31000000000006" stroke="#c6ddb0" stroke-width="1" />
<line x1="448.3" y1="283.81000000000006" x2="448.3" y2="288.81000000000006" stroke="#c6ddb0" stroke-width="1" />
<line x1="432.4" y1="286.31000000000006" x2="434.7" y2="286.31000000000006" stroke="#000" stroke-width="0.8" />
<rect x="435.20" y="291.30" width="6.60" height="7.20" fill="#bcd6a0" />
<line x1="441.8" y1="294.90000000000003" x2="445.7" y2="294.90000000000003" stroke="#c6ddb0" stroke-width="1" />
<line x1="445.7" y1="292.40000000000003" x2="445.7" y2="297.40000000000003" stroke="#c6ddb0" stroke-width="1" />
<line x1="432.4" y1="294.90000000000003" x2="434.7" y2="294.90000000000003" stroke="#000" stroke-width="0.8" />
</g>
<rect x="0.5" y="0.5" width="519" height="304" fill="none" stroke="#000" stroke-width="1"/>
</svg>
</body></html>
